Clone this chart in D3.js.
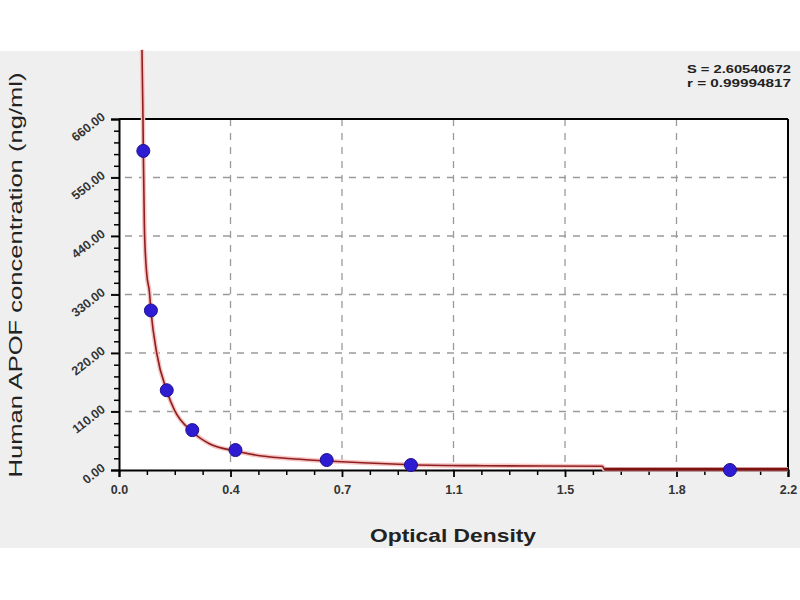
<!DOCTYPE html>
<html>
<head>
<meta charset="utf-8">
<script src="https://cdn.jsdelivr.net/npm/d3@7"></script>
<style>
  html, body { margin: 0; padding: 0; background: #ffffff; }
  svg { display: block; }
</style>
</head>
<body>
<svg id="chart" width="800" height="600"></svg>
<script>
// ---- data ----
const standardOD   = [0.080, 0.105, 0.157, 0.241, 0.383, 0.683, 0.960, 2.009];
const standardConc = [600, 300, 150, 75, 37.5, 18.75, 9.38, 0];

const curveOD   = [0.0756, 0.0789, 0.0800, 0.0835, 0.091, 0.100, 0.105, 0.124, 0.157, 0.182, 0.241, 0.299, 0.383, 0.470, 0.579, 0.683, 0.800, 0.960, 1.200, 1.590, 1.596, 2.200];
const curveConc = [790, 660, 598, 457, 370, 335, 300, 220, 149, 113, 72, 49, 35.7, 26.3, 20.7, 17, 13.5, 10, 8, 7, 1.2, 1.2];

const xTickValues = [0, 0.3667, 0.7333, 1.1, 1.4667, 1.8333, 2.2];
const xTickLabels = ["0.0", "0.4", "0.7", "1.1", "1.5", "1.8", "2.2"];
const yTickValues = [0, 110, 220, 330, 440, 550, 660];
const yTickLabels = ["0.00", "110.00", "220.00", "330.00", "440.00", "550.00", "660.00"];

const xTitle = "Optical Density";
const yTitle = "Human APOF concentration (ng/ml)";
const statLines = ["S = 2.60540672", "r = 0.99994817"];

// ---- layout ----
const svg = d3.select("#chart");
const L = 119, R = 788, T = 119, B = 470;
const FONT = "Liberation Sans, Arial, sans-serif";

const x = d3.scaleLinear().domain([0, 2.2]).range([L, R]);
const y = d3.scaleLinear().domain([0, 660]).range([B, T]);

// gray panel
svg.append("rect").attr("x", 0).attr("y", 51).attr("width", 800).attr("height", 497).attr("fill", "#efefef");
// plot area
svg.append("rect").attr("x", L).attr("y", T).attr("width", R - L).attr("height", B - T).attr("fill", "#ffffff");

// grid
const grid = svg.append("g");
grid.selectAll("line.v").data(xTickValues.slice(1, -1)).join("line")
  .attr("x1", d => x(d)).attr("x2", d => x(d)).attr("y1", T).attr("y2", B)
  .attr("stroke", "#9a9a9a").attr("stroke-width", 1.3).attr("stroke-dasharray", "7,7");
grid.selectAll("line.h").data(yTickValues.slice(1, -1)).join("line")
  .attr("x1", L - 8).attr("x2", R).attr("y1", d => y(d)).attr("y2", d => y(d))
  .attr("stroke", "#9a9a9a").attr("stroke-width", 1.3).attr("stroke-dasharray", "7,7");

// minor ticks
const xMinor = [];
for (let i = 0; i < xTickValues.length - 1; i++) {
  const a = xTickValues[i], b = xTickValues[i + 1];
  for (let k = 1; k < 4; k++) xMinor.push(a + (b - a) * k / 4);
}
const yMinor = [];
for (let i = 0; i < yTickValues.length - 1; i++) {
  const a = yTickValues[i], b = yTickValues[i + 1];
  for (let k = 1; k < 5; k++) yMinor.push(a + (b - a) * k / 5);
}

// axes
const xAxis = d3.axisBottom(x).tickValues(xTickValues).tickFormat((d, i) => xTickLabels[i]).tickSize(7).tickPadding(8);
const yAxis = d3.axisLeft(y).tickValues(yTickValues).tickFormat((d, i) => yTickLabels[i]).tickSize(8).tickPadding(6);

const gx = svg.append("g").attr("transform", `translate(0,${B})`).call(xAxis);
const gy = svg.append("g").attr("transform", `translate(${L},0)`).call(yAxis);

svg.append("g").attr("transform", `translate(0,${B})`)
  .call(d3.axisBottom(x).tickValues(xMinor).tickFormat("").tickSize(5))
  .call(g => g.select(".domain").remove())
  .selectAll("line").attr("stroke", "#000").attr("stroke-width", 1.5);
svg.append("g").attr("transform", `translate(${L},0)`)
  .call(d3.axisLeft(y).tickValues(yMinor).tickFormat("").tickSize(5))
  .call(g => g.select(".domain").remove())
  .selectAll("line").attr("stroke", "#000").attr("stroke-width", 1.5);

[gx, gy].forEach(g => {
  g.select(".domain").attr("stroke", "#000").attr("stroke-width", 2);
  g.selectAll(".tick line").attr("stroke", "#000").attr("stroke-width", 1.8);
  g.selectAll("text").attr("fill", "#333").attr("font-family", FONT)
    .attr("font-weight", "bold").attr("font-size", 12.5);
});
gy.selectAll(".tick text")
  .attr("text-anchor", "end")
  .attr("x", 0).attr("dy", 0)
  .attr("transform", "translate(-13,-1) rotate(-38)");

// top & right frame
svg.append("line").attr("x1", L).attr("x2", R).attr("y1", T).attr("y2", T).attr("stroke", "#000").attr("stroke-width", 2);
svg.append("line").attr("x1", R).attr("x2", R).attr("y1", T).attr("y2", B).attr("stroke", "#000").attr("stroke-width", 2);

// curve
const curveData = curveOD.map((d, i) => [d, curveConc[i]]);
const line = d3.line().x(d => x(d[0])).y(d => y(d[1])).curve(d3.curveMonotoneX);
svg.append("path").datum(curveData).attr("d", line)
  .attr("fill", "none").attr("stroke", "#f7c4c4").attr("stroke-width", 4.5);
svg.append("path").datum(curveData).attr("d", line)
  .attr("fill", "none").attr("stroke", "#8e1f1f").attr("stroke-width", 1.6);
// thick tail near axis
const tail = curveData.filter(d => d[0] >= 1.596);
svg.append("path").datum(tail).attr("d", d3.line().x(d => x(d[0])).y(d => y(d[1])))
  .attr("fill", "none").attr("stroke", "#7a1414").attr("stroke-width", 3);

// points
svg.append("g").selectAll("circle").data(standardOD.map((d, i) => [d, standardConc[i]])).join("circle")
  .attr("cx", d => x(d[0])).attr("cy", d => y(d[1])).attr("r", 6.5)
  .attr("fill", "#2e1cd2").attr("stroke", "#1d118e").attr("stroke-width", 1);

// titles
svg.append("text").attr("x", 453).attr("y", 542).attr("text-anchor", "middle")
  .attr("font-family", FONT).attr("font-weight", "bold").attr("font-size", 19)
  .attr("fill", "#222").attr("textLength", 166).attr("lengthAdjust", "spacingAndGlyphs").text(xTitle);
svg.append("text").attr("transform", "translate(22,275) rotate(-90)").attr("text-anchor", "middle")
  .attr("font-family", FONT).attr("font-size", 19)
  .attr("fill", "#222").attr("textLength", 405).attr("lengthAdjust", "spacingAndGlyphs").text(yTitle);

svg.append("g").selectAll("text").data(statLines).join("text")
  .attr("x", 791).attr("y", (d, i) => 73 + i * 14).attr("text-anchor", "end")
  .attr("font-family", FONT).attr("font-weight", "bold").attr("font-size", 11.5)
  .attr("fill", "#222").attr("textLength", 104).attr("lengthAdjust", "spacingAndGlyphs").text(d => d);
</script>
</body>
</html>
